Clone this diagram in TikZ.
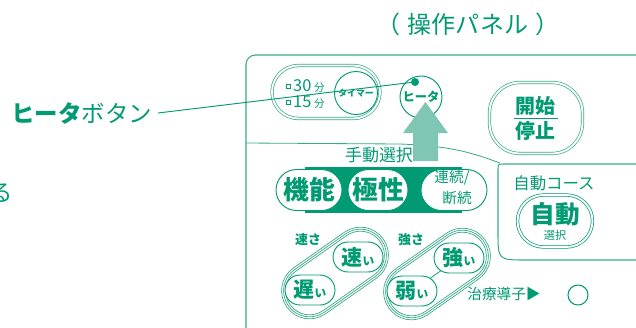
\documentclass[tikz,border=0pt]{standalone}
\usepackage{fontspec}
\setmainfont{Noto Sans CJK JP}
\usetikzlibrary{shapes.misc}
\definecolor{pgreen}{HTML}{009A73}
\definecolor{lgreen}{HTML}{38AA8B}
\definecolor{agreen}{HTML}{80C6B4}
\newcommand{\pxu}{0.03cm}
\newcommand{\fs}[1]{\fontsize{#1}{#1}\selectfont}
\tikzset{
  frame/.style    = {draw=lgreen, line width=0.9pt},
  tx/.style       = {text=pgreen, inner sep=0pt},
  pill/.style     = {rounded rectangle, draw=pgreen, fill=white, line width=0.8pt,
                     inner sep=0pt, text=pgreen},
  dpill/.style    = {pill, draw=lgreen, double=white, line width=0.6pt,
                     double distance=1.6pt},
  ring/.style     = {circle, draw=pgreen, fill=white, line width=0.8pt,
                     inner sep=0pt, text=pgreen},
  startbox/.style = {draw=lgreen, double=white, line width=0.6pt, double distance=1.6pt,
                     rounded corners=26pt, minimum width=93*\pxu, minimum height=71*\pxu},
  capsule/.style  = {draw=lgreen, line width=0.6pt},
  leader/.style   = {draw=pgreen, line width=0.8pt},
}

\begin{document}
\begin{tikzpicture}[x=\pxu, y=-\pxu]

  \useasboundingbox (0,0) rectangle (636,327);
  \clip (0,0) rectangle (636,327);

  % ===== captions =======================================================
  \node[tx, font=\fs{20.5}]               (title) at (468,24)
       {（\hspace{0.3em}操作パネル\hspace{0.3em}）};
  \node[tx, font=\fs{20}, anchor=east,
        inner xsep=5pt]                   (lbl)   at (158,113) {\textbf{ヒータ}ボタン};
  \node[tx, font=\fs{20}]                 (ru)    at (1,193)   {る};

  % ===== panel outline ==================================================
  \draw[frame, rounded corners=8pt] (246,340) -- (246,55) -- (650,55);
  \draw[frame, line width=0.7pt] (246,143) -- (400,144)
        .. controls (450,146) and (470,152) .. (500,163);
  \draw[frame] (650,164) -- (504,164) .. controls (498,164) .. (498,170)
        -- (498,232) .. controls (498,260) .. (526,260) -- (650,260);

  % ===== timer and heater ===============================================
  \node[dpill, minimum width=108*\pxu, minimum height=53*\pxu] (timer) at (326,92) {};
  \node[ring, minimum size=43*\pxu, font=\fs{7.5}\bfseries]   (tmr)   at (356,93) {タイマー};
  \node[draw=pgreen, line width=0.5pt, minimum size=4*\pxu,
        inner sep=0pt]                                        (b30)   at (288,86) {};
  \node[draw=pgreen, line width=0.5pt, minimum size=4*\pxu,
        inner sep=0pt]                                        (b15)   at (288,102) {};
  \node[tx, anchor=west, font=\fs{14}] (m30) at (293,86)  {30\,\fs{9}分};
  \node[tx, anchor=west, font=\fs{14}] (m15) at (293,102) {15\,\fs{9}分};

  \node[ring, minimum size=42*\pxu, font=\fs{10.5}\bfseries] (heater) at (421,97) {ヒータ};
  \node[circle, fill=pgreen, minimum size=8*\pxu, inner sep=0pt] (hdot) at (415,82) {};

  % ===== start / stop ===================================================
  \node[startbox] (start) at (536,118) {};
  \node[tx, font=\fs{17}\bfseries] (kaishi) at (535,106) {開始};
  \node[tx, font=\fs{17}\bfseries] (teishi) at (535,131) {停止};
  \draw[leader] ([xshift=-22*\pxu]start.center) -- ([xshift=22*\pxu]start.center);

  % ===== manual select ==================================================
  \node[tx, font=\fs{14.5}] (manual) at (379,155) {手動選択};
  \fill[agreen] (413,161) -- (413,133) -- (403,133) -- (425.5,102)
        -- (448,133) -- (438,133) -- (438,161) -- cycle;

  \fill[pgreen] (305,167) rectangle (462,213);
  \node[pill, minimum width=66*\pxu, minimum height=41*\pxu,
        font=\fs{22}\bfseries] (func)  at (309,190) {機能};
  \node[pill, minimum width=60*\pxu, minimum height=41*\pxu,
        font=\fs{22}\bfseries] (polar) at (378,190) {極性};
  \node[pill, minimum width=66*\pxu, minimum height=41*\pxu] (cont) at (454,190) {};
  \node[tx, font=\fs{12.5}] (contA) at (452,178) {連続/};
  \node[tx, font=\fs{12.5}] (contB) at (457,198) {断続};

  % ===== speed ==========================================================
  \begin{scope}[shift={(335,273)}, rotate=35]
    \draw[capsule, rounded corners=23.8pt] (-59,-28) rectangle (59,28);
    \draw[capsule, rounded corners=22.1pt] (-57,-26) rectangle (57,26);
    \draw[capsule, rounded corners=20.4pt] (-55,-24) rectangle (55,24);
  \end{scope}
  \node[tx, font=\fs{11}\bfseries] (speed) at (308,240) {速さ};
  \node[pill, minimum width=50*\pxu, minimum height=30*\pxu,
        font=\bfseries] (fast) at (358,257) {\fs{18}速\fs{10}い};
  \node[pill, minimum width=50*\pxu, minimum height=30*\pxu,
        font=\bfseries] (slow) at (310,290) {\fs{18}遅\fs{10}い};

  % ===== strength =======================================================
  \begin{scope}[shift={(437,274)}, rotate=35]
    \draw[capsule, rounded corners=23.8pt] (-59,-28) rectangle (59,28);
    \draw[capsule, rounded corners=22.1pt] (-57,-26) rectangle (57,26);
    \draw[capsule, rounded corners=20.4pt] (-55,-24) rectangle (55,24);
  \end{scope}
  \node[tx, font=\fs{11}\bfseries] (power) at (411,240) {強さ};
  \node[pill, minimum width=50*\pxu, minimum height=30*\pxu,
        font=\bfseries] (strong) at (459,258) {\fs{18}強\fs{10}い};
  \node[pill, minimum width=50*\pxu, minimum height=30*\pxu,
        font=\bfseries] (weak)   at (412,291) {\fs{18}弱\fs{10}い};
  \draw[pgreen, line width=0.6pt] (weak) -- (strong);

  % ===== probe ==========================================================
  \node[tx, font=\fs{12.5}] (probe) at (504,294) {治療導子▶};
  \node[circle, draw=pgreen, line width=0.9pt, minimum size=20*\pxu] (socket) at (578,295) {};

  % ===== auto course ====================================================
  \node[tx, font=\fs{14}] (course) at (554,183) {自動コース};
  \node[dpill, draw=pgreen, minimum width=75*\pxu, minimum height=52*\pxu] (auto) at (555,221) {};
  \node[tx, font=\fs{21}\bfseries] (autoA) at (555,214) {自動};
  \node[tx, font=\fs{9.5}]         (autoB) at (555,235) {選択};

  % ===== leader =========================================================
  \draw[leader] (lbl.east) -- (hdot.center);

\end{tikzpicture}
\end{document}
